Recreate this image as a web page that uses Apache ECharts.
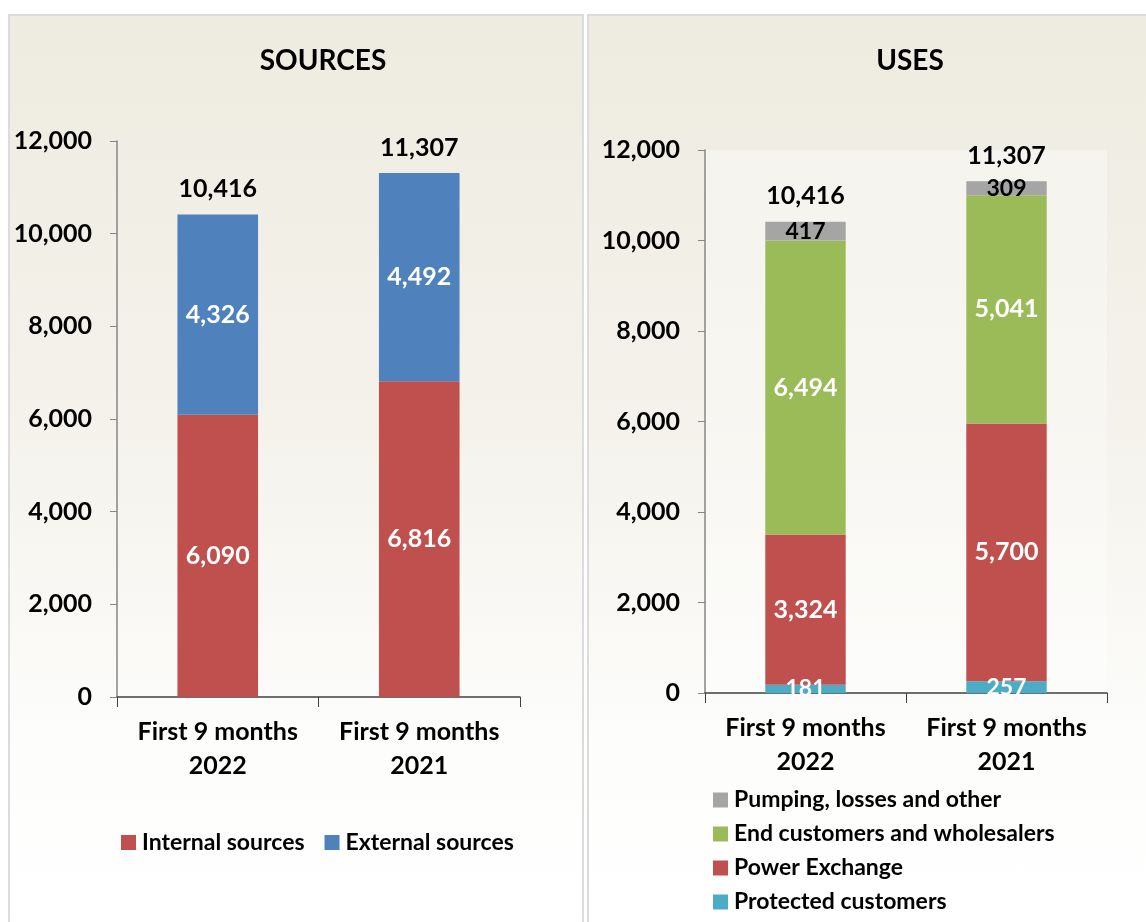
<!DOCTYPE html>
<html>
<head>
<meta charset="utf-8">
<script src="https://cdn.jsdelivr.net/npm/echarts@6/dist/echarts.min.js"></script>
<style>
  html, body { margin: 0; padding: 0; background: #fff; }
  .panel {
    position: absolute;
    top: 14px;
    height: 920px;
    border: 2px solid #dcdcdc;
    box-sizing: border-box;
    background: linear-gradient(to bottom, #eeebe0 0%, #f4f2eb 45%, #fdfdfc 80%, #ffffff 100%);
  }
  #chart { position: absolute; left: 0; top: 0; width: 1146px; height: 922px; }
</style>
</head>
<body>
<div class="panel" style="left: 8px; width: 576px;"></div>
<div class="panel" style="left: 587px; width: 565px;"></div>
<div id="chart"></div>
<script>
// categories
const periods = ["First 9 months\n2022", "First 9 months\n2021"];

// sources
const internalSources = [6090, 6816];
const externalSources = [4326, 4492];
const sourceTotals = [10416, 11307];

// uses
const protectedCustomers = [181, 257];
const powerExchange = [3324, 5700];
const endCustomers = [6494, 5041];
const pumpingLosses = [417, 309];
const useTotals = [10416, 11307];

// y axis ticks
const yMin = 0;
const yMax = 12000;
const yStep = 2000;

const font = "Lato, 'Open Sans', sans-serif";
const colors = {
  red: "#c0504d",
  blue: "#4f81bd",
  green: "#9bbb59",
  gray: "#a5a5a5",
  teal: "#4bacc6"
};

const fmt = v => Number(v).toLocaleString("en-US");

function inLabel(color, size) {
  return {
    show: true,
    position: "inside",
    color: color,
    fontFamily: font,
    fontWeight: "bold",
    fontSize: size || 25,
    formatter: p => fmt(p.value)
  };
}

function totalSeries(stack, xi, totals) {
  return {
    name: "Total",
    type: "bar",
    stack: stack,
    xAxisIndex: xi,
    yAxisIndex: xi,
    data: [0, 0],
    barWidth: "40%",
    itemStyle: { color: "transparent" },
    label: {
      show: true,
      position: "top",
      distance: 13,
      color: "#000",
      fontFamily: font,
      fontWeight: "bold",
      fontSize: 25,
      formatter: p => fmt(totals[p.dataIndex])
    }
  };
}

function xAxis(gi) {
  return {
    type: "category",
    gridIndex: gi,
    data: periods,
    axisLine: { lineStyle: { color: "#404040", width: 1.5 } },
    axisTick: { show: true, length: 10, lineStyle: { color: "#404040" } },
    axisLabel: {
      interval: 0,
      color: "#000",
      fontFamily: font,
      fontWeight: "bold",
      fontSize: 25,
      lineHeight: 34,
      margin: 18
    }
  };
}

function yAxis(gi) {
  return {
    type: "value",
    gridIndex: gi,
    min: yMin,
    max: yMax,
    interval: yStep,
    splitLine: { show: false },
    axisLine: { show: true, lineStyle: { color: "#868686", width: 1.5 } },
    axisTick: { show: true, length: 7, lineStyle: { color: "#868686" } },
    axisLabel: {
      color: "#000",
      fontFamily: font,
      fontWeight: "bold",
      fontSize: 25,
      margin: 25,
      formatter: v => fmt(v)
    }
  };
}

const chart = echarts.init(document.getElementById("chart"));

const option = {
  animation: false,
  backgroundColor: "transparent",
  title: [
    {
      text: "SOURCES",
      left: 318, top: 42, textAlign: "center",
      textStyle: { fontFamily: font, fontWeight: "bold", fontSize: 28, color: "#000" }
    },
    {
      text: "USES",
      left: 905, top: 42, textAlign: "center",
      textStyle: { fontFamily: font, fontWeight: "bold", fontSize: 28, color: "#000" }
    }
  ],
  legend: [
    {
      data: ["Internal sources", "External sources"],
      left: 121, top: 831,
      padding: 0,
      orient: "horizontal",
      itemWidth: 15, itemHeight: 15, itemGap: 20,
      icon: "rect",
      textStyle: { fontFamily: font, fontWeight: "bold", fontSize: 23, color: "#000", padding: [0, 0, 0, 1] }
    },
    {
      data: ["Pumping, losses and other", "End customers and wholesalers", "Power Exchange", "Protected customers"],
      left: 713, top: 788,
      padding: 0,
      orient: "vertical",
      itemWidth: 15, itemHeight: 15, itemGap: 10,
      icon: "rect",
      textStyle: { fontFamily: font, fontWeight: "bold", fontSize: 23, color: "#000", lineHeight: 24, padding: [0, 0, 0, 1] }
    }
  ],
  grid: [
    { left: 117, right: 626, top: 141, bottom: 225 },
    { left: 705, right: 39, top: 150, bottom: 229, show: true, backgroundColor: "rgba(255,255,255,0.35)", borderWidth: 0 }
  ],
  xAxis: [xAxis(0), xAxis(1)],
  yAxis: [yAxis(0), yAxis(1)],
  series: [
    {
      name: "Internal sources", type: "bar", stack: "src",
      xAxisIndex: 0, yAxisIndex: 0, barWidth: "40%",
      itemStyle: { color: colors.red },
      label: inLabel("#fff"),
      data: internalSources
    },
    {
      name: "External sources", type: "bar", stack: "src",
      xAxisIndex: 0, yAxisIndex: 0, barWidth: "40%",
      itemStyle: { color: colors.blue },
      label: inLabel("#fff"),
      data: externalSources
    },
    totalSeries("src", 0, sourceTotals),
    {
      name: "Protected customers", type: "bar", stack: "use",
      xAxisIndex: 1, yAxisIndex: 1, barWidth: "40%",
      itemStyle: { color: colors.teal },
      label: inLabel("#fff", 23),
      data: protectedCustomers
    },
    {
      name: "Power Exchange", type: "bar", stack: "use",
      xAxisIndex: 1, yAxisIndex: 1, barWidth: "40%",
      itemStyle: { color: colors.red },
      label: inLabel("#fff"),
      data: powerExchange
    },
    {
      name: "End customers and wholesalers", type: "bar", stack: "use",
      xAxisIndex: 1, yAxisIndex: 1, barWidth: "40%",
      itemStyle: { color: colors.green },
      label: inLabel("#fff"),
      data: endCustomers
    },
    {
      name: "Pumping, losses and other", type: "bar", stack: "use",
      xAxisIndex: 1, yAxisIndex: 1, barWidth: "40%",
      itemStyle: { color: colors.gray },
      label: inLabel("#000", 23),
      data: pumpingLosses
    },
    totalSeries("use", 1, useTotals)
  ]
};

chart.setOption(option);
</script>
</body>
</html>
